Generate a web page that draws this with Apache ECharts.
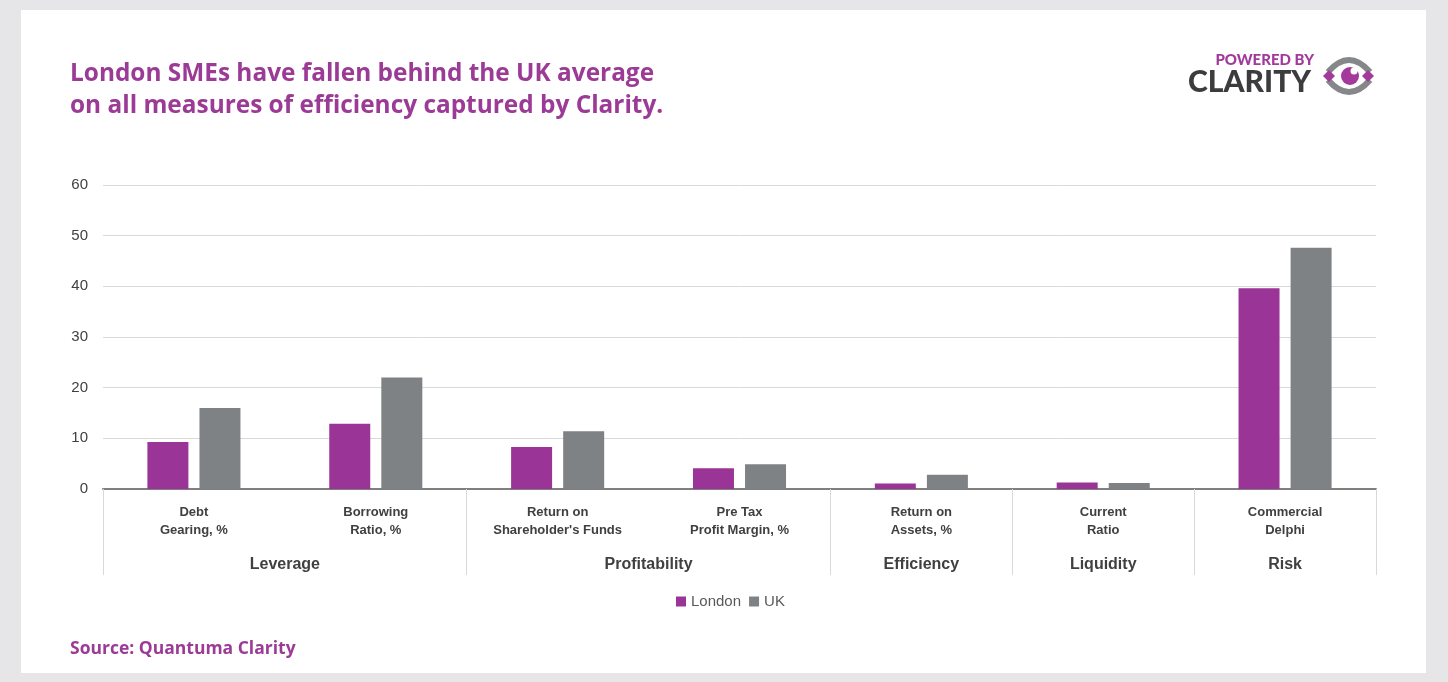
<!DOCTYPE html>
<html><head><meta charset="utf-8">
<script src="https://cdn.jsdelivr.net/npm/echarts@6/dist/echarts.min.js"></script>
<style>html,body{margin:0;padding:0;background:#e6e6e8;}#c{width:1448px;height:682px;}</style>
</head><body><div id="c"></div>
<script>
const categories = ['Debt\nGearing, %','Borrowing\nRatio, %',"Return on\nShareholder's Funds",'Pre Tax\nProfit Margin, %','Return on\nAssets, %','Current\nRatio','Commercial\nDelphi'];
const londonValues = [9.3, 12.9, 8.3, 4.1, 1.1, 1.3, 39.6];
const ukValues = [16.0, 22.0, 11.4, 4.9, 2.8, 1.2, 47.6];
const groupNames = ['Leverage','Profitability','Efficiency','Liquidity','Risk'];
const groupSizes = [2, 2, 1, 1, 1];
const yTicks = [0, 10, 20, 30, 40, 50, 60];

const boundaries = [0]; const centers = [];
groupSizes.forEach((s,i)=>{ const a = boundaries[boundaries.length-1]; centers.push(a + s/2); boundaries.push(a + s); });
const groupByCenter = {}; centers.forEach((c,i)=>groupByCenter[c]=groupNames[i]);

const purple = '#9a3597', grey = '#7f8285', titlePurple = '#9b3b96';
const chart = echarts.init(document.getElementById('c'), null, {renderer:'canvas'});
chart.setOption({
  animation:false,
  backgroundColor:'#e6e6e8',
  graphic:[
    {type:'rect', z:-10, shape:{x:21,y:10,width:1405,height:663}, style:{fill:'#ffffff'}},
    {type:'text', x:70, y:58, style:{text:'London SMEs have fallen behind the UK average\non all measures of efficiency captured by Clarity.', font:'bold 24.4px "Open Sans"', fill:titlePurple, lineHeight:32}},
    {type:'text', x:70, y:640, style:{text:'Source: Quantuma Clarity', font:'bold 17.5px "Open Sans"', fill:titlePurple}},
    {type:'text', x:1314, y:53, style:{text:'POWERED BY', font:'900 15px Lato', fill:'#a3399b', align:'right'}},
    {type:'text', x:1311, y:67, style:{text:'CLARITY', font:'900 30px Lato', fill:'#3c3c3e', align:'right'}},
    {type:'bezierCurve', shape:{x1:1328,y1:72,cpx1:1349,cpy1:48,x2:1370,y2:72}, style:{stroke:'#858789', lineWidth:6, fill:null}},
    {type:'bezierCurve', shape:{x1:1328,y1:80,cpx1:1349,cpy1:104,x2:1370,y2:80}, style:{stroke:'#858789', lineWidth:6, fill:null}},
    {type:'polygon', shape:{points:[[1323,76],[1329,70],[1335,76],[1329,82]]}, style:{fill:'#a3399b'}},
    {type:'polygon', shape:{points:[[1362,76],[1368,70],[1374,76],[1368,82]]}, style:{fill:'#a3399b'}},
    {type:'circle', shape:{cx:1350,cy:76,r:9}, style:{fill:'#a3399b'}},
    {type:'circle', shape:{cx:1354,cy:71,r:3.5}, style:{fill:'#ffffff'}}
  ],
  grid:{left:103, right:72, top:185, bottom:193},
  legend:{data:['London','UK'], left:671, top:589, icon:'rect', itemWidth:10, itemHeight:10, itemGap:8,
    textStyle:{fontFamily:'Liberation Sans', fontSize:15, color:'#595959'}},
  xAxis:[
    {type:'category', data:categories, axisLine:{lineStyle:{color:'#7f7f7f', width:2}}, axisTick:{show:false},
      axisLabel:{interval:0, fontFamily:'Liberation Sans', fontWeight:'bold', fontSize:13, lineHeight:18, color:'#404040', margin:14}},
    {type:'value', min:0, max:categories.length, position:'bottom', axisLine:{show:false}, splitLine:{show:false},
      axisTick:{show:true, customValues:boundaries, length:86, lineStyle:{color:'#d9d9d9', width:1}},
      axisLabel:{customValues:centers, formatter:v=>groupByCenter[v]||'', fontFamily:'Liberation Sans', fontWeight:'bold', fontSize:16, color:'#404040', margin:68}}
  ],
  yAxis:{type:'value', min:yTicks[0], max:yTicks[yTicks.length-1], interval:10,
    axisLine:{show:false}, axisTick:{show:false},
    axisLabel:{fontFamily:'Liberation Sans', fontSize:15, color:'#404040', margin:15},
    splitLine:{lineStyle:{color:'#d9d9d9', width:1}}},
  series:[
    {name:'London', type:'bar', data:londonValues, barWidth:41, barGap:'27%', itemStyle:{color:purple}},
    {name:'UK', type:'bar', data:ukValues, barWidth:41, barGap:'27%', itemStyle:{color:grey}}
  ]
});
</script></body></html>
